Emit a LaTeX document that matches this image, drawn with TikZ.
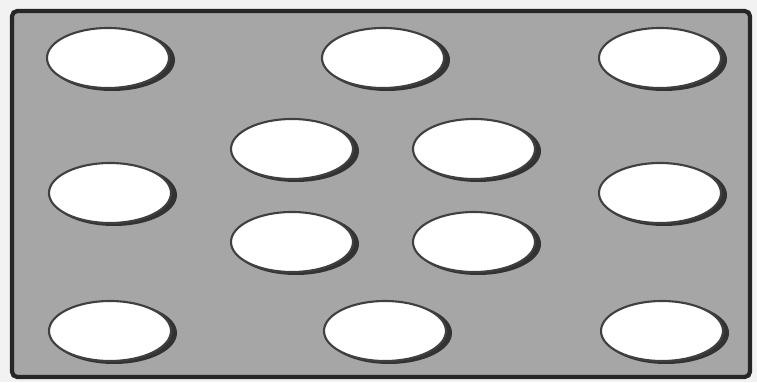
\documentclass[tikz,border=0pt]{standalone}
\usepackage{tikz}

\begin{document}
\begin{tikzpicture}[x=0.02cm, y=0.02cm,
  hole/.style={fill=white, draw=black!75, line width=1.2pt},
  holeshadow/.style={fill=black!80}]
  \fill[black!5] (0,0) rectangle (757,382);
  \useasboundingbox (0,0) rectangle (757,382);
  % plate
  \fill[black!35] (13,6) rectangle (749,370);
  \draw[line width=2.4pt, black!85, rounded corners=3pt] (12,5) rectangle (750,371);
  % holes
  \foreach \x/\y in {108/324, 383/324, 660/324,
                     292/233, 474/233,
                     110/189, 660/189,
                     292/140, 474/140,
                     110/51, 385/51, 662/51} {
    \fill[holeshadow] (\x+4,\y-2) ellipse (63 and 31);
    \draw[hole] (\x,\y) ellipse (61 and 30);
  }
\end{tikzpicture}
\end{document}
